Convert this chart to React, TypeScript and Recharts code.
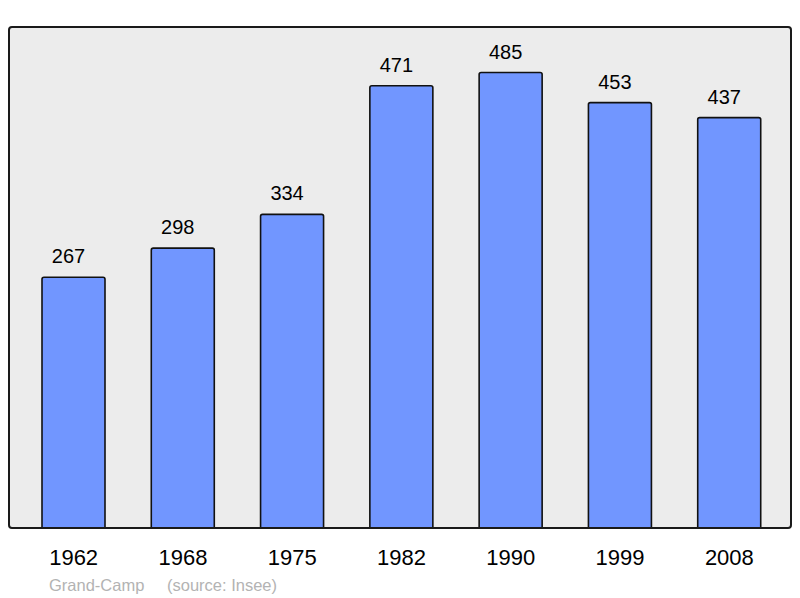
import { Bar, BarChart, LabelList, XAxis, YAxis } from "recharts";

const years = ["1962", "1968", "1975", "1982", "1990", "1999", "2008"];
const population = [267, 298, 334, 471, 485, 453, 437];

const data = years.map((year, i) => ({ year, population: population[i] }));

const yMax = Math.max(...population) * 1.1;

export default function App() {
  return (
    <div style={{ position: "absolute", left: 0, top: 0, width: 800, height: 598, background: "#fff" }}>
      {/* plot background */}
      <div
        style={{
          position: "absolute",
          left: 8,
          top: 26,
          width: 784,
          height: 503,
          background: "#ececec",
          borderRadius: 4,
        }}
      />
      <BarChart
        width={800}
        height={598}
        data={data}
        margin={{ top: 27, right: 9, bottom: 40, left: 9 }}
        style={{ position: "absolute", left: 0, top: 0 }}
      >
        <XAxis
          dataKey="year"
          height={30}
          axisLine={false}
          tickLine={false}
          tickSize={0}
          tickMargin={21}
          padding={{ left: 10, right: 7 }}
          tick={{ fill: "#000", fontSize: 22, fontFamily: "Liberation Sans, Arial, sans-serif" }}
          interval={0}
        />
        <YAxis hide domain={[0, yMax]} />
        <Bar
          dataKey="population"
          fill="#7196ff"
          stroke="#111"
          strokeWidth={1.6}
          barSize={63}
          radius={[2, 2, 0, 0]}
          isAnimationActive={false}
        >
          <LabelList
            dataKey="population"
            position="top"
            offset={14}
            dx={-5}
            fill="#000"
            fontSize={20}
            fontFamily="Liberation Sans, Arial, sans-serif"
          />
        </Bar>
      </BarChart>
      {/* plot frame */}
      <div
        style={{
          position: "absolute",
          left: 8,
          top: 26,
          width: 784,
          height: 503,
          border: "2px solid #1a1a1a",
          borderRadius: 4,
          boxSizing: "border-box",
          pointerEvents: "none",
        }}
      />
      <svg width={800} height={598} style={{ position: "absolute", left: 0, top: 0, pointerEvents: "none" }}>
        <text x={49} y={591} fill="#b3b3b3" fontSize={16.5} fontFamily="Liberation Sans, Arial, sans-serif">
          Grand-Camp
        </text>
        <text x={167} y={591} fill="#b3b3b3" fontSize={16.5} fontFamily="Liberation Sans, Arial, sans-serif">
          (source: Insee)
        </text>
      </svg>
    </div>
  );
}
